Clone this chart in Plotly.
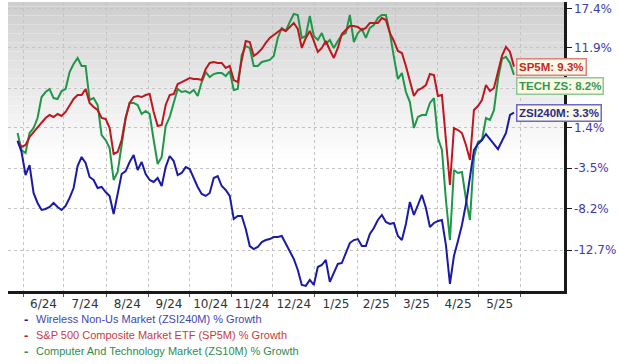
import plotly.graph_objects as go
import pandas as pd

# ---- data (percent growth) ----
start_date = "2024-05-28"
end_date = "2025-05-27"

zsi240m = [-0.2, -1.56, -4.30, -3.12, -6.38, -7.52, -8.31, -8.20, -7.97, -7.52,
           -7.97, -8.31, -7.86, -6.95, -5.81, -3.24, -2.16, -2.88, -4.53, -4.88,
           -5.81, -5.69, -6.27, -6.72, -8.76, -6.61, -4.18, -3.83, -2.76, -1.92,
           -3.71, -2.76, -4.18, -4.88, -5.11, -4.65, -5.58, -3.36, -2.04, -2.64,
           -4.30, -4.06, -3.36, -3.59, -4.65, -5.69, -6.50, -6.72, -6.38, -4.65,
           -4.42, -5.58, -6.04, -6.72, -9.32, -8.98, -8.98, -10.42, -12.28, -12.60,
           -12.38, -11.85, -11.63, -11.52, -11.30, -11.30, -11.19, -12.06, -12.81, -13.65,
           -14.81, -16.36, -16.46, -15.85, -16.36, -14.50, -14.29, -13.76, -16.05, -15.02,
           -14.18, -14.08, -13.02, -11.95, -11.63, -11.52, -12.28, -12.28, -10.97, -10.31,
           -9.43, -8.87, -9.65, -9.87, -9.76, -11.19, -11.63, -9.87, -7.41, -8.87,
           -7.75, -6.61, -8.09, -10.20, -9.76, -9.54, -9.43, -12.17, -16.26, -13.34,
           -11.74, -9.98, -7.64, -4.65, -1.32, -0.59, -0.10, 0.63, 0.02, -0.59,
           -1.20, -0.22, 0.76, 3.01, 3.30]

sp5m = [-0.2, -0.95, -0.71, 0.27, 0.88, 1.50, 2.13, 2.63, 3.01, 2.76,
        3.13, 2.88, 3.39, 4.28, 5.05, 5.56, 5.56, 6.34, 4.54, 4.03,
        3.64, 2.63, 2.51, 1.38, -1.80, -1.56, -0.10, 2.63, 4.54, 5.30,
        5.43, 5.30, 5.56, 5.69, 3.39, 1.63, 1.75, 4.28, 5.56, 5.69,
        6.99, 7.25, 7.52, 7.78, 7.65, 7.65, 7.52, 8.98, 9.79, 9.93,
        9.79, 9.79, 9.12, 9.39, 7.52, 7.25, 10.20, 12.79, 12.65, 10.74,
        11.14, 11.69, 12.52, 13.21, 13.62, 14.04, 14.46, 14.18, 14.74, 15.31,
        14.46, 11.83, 13.21, 14.18, 12.79, 11.28, 11.83, 12.79, 11.55, 10.47,
        11.83, 13.76, 14.32, 14.88, 14.88, 14.74, 14.32, 14.60, 15.31, 15.31,
        15.31, 16.01, 15.73, 13.90, 12.79, 11.42, 11.14, 9.39, 7.39, 5.43,
        6.21, 6.47, 6.86, 8.31, 8.18, 5.43, 5.56, -0.10, -5.46, 1.38,
        1.13, 0.76, -0.71, -2.52, 3.64, 4.15, 4.92, 6.86, 6.08, 6.47,
        8.71, 10.74, 11.97, 11.28, 9.30]

zs10m = [0.76, -1.32, -1.68, 0.76, 1.38, 2.63, 5.30, 5.95, 6.34, 5.17,
         5.05, 6.08, 6.34, 8.58, 9.66, 10.47, 9.39, 9.39, 4.92, 5.17,
         4.28, 0.51, -0.10, -1.08, -4.88, -3.95, -0.71, 2.63, 4.54, 4.54,
         4.28, 3.13, 3.51, 3.13, -0.10, -3.00, -2.16, 1.63, 2.76, 4.66,
         6.34, 5.95, 6.08, 5.82, 6.21, 5.43, 7.25, 8.58, 7.91, 8.31,
         8.45, 8.45, 8.05, 8.71, 6.21, 6.34, 10.87, 12.10, 11.83, 9.39,
         9.39, 9.93, 10.06, 10.20, 10.74, 13.21, 14.60, 14.18, 15.45, 16.58,
         16.44, 13.21, 13.48, 16.30, 13.48, 12.93, 13.90, 12.38, 12.93, 11.83,
         12.79, 13.62, 13.90, 16.44, 12.65, 13.90, 14.46, 13.21, 14.60, 15.02,
         16.01, 16.44, 16.44, 13.90, 10.61, 7.65, 8.45, 5.95, 4.66, 1.38,
         2.76, 3.01, 3.01, 4.54, 5.17, 0.14, -1.32, -7.18, -11.63, -3.71,
         -4.06, -3.95, -7.07, -9.43, -2.16, -0.34, -0.10, 2.63, 2.38, 3.64,
         7.65, 10.33, 10.61, 9.79, 8.20]

series_names = ["Wireless Non-Us Market (ZSI240M) % Growth",
                "S&P 500 Composite Market ETF (SP5M) % Growth",
                "Computer And Technology Market (ZS10M) % Growth"]
tag_labels = ["ZSI240M", "SP5M", "TECH ZS"]

y_tick_pct = [17.4, 11.9, 6.4, 1.4, -3.5, -8.2, -12.7]
y_tick_hidden = [6.4]          # label covered by the value tags in the reference
month_labels = ["6/24", "7/24", "8/24", "9/24", "10/24", "11/24", "12/24",
                "1/25", "2/25", "3/25", "4/25", "5/25"]

# ---- styling ----
line_colors = ["#1a1aa6", "#c0161e", "#1e9748"]
legend_colors = ["#4646aa", "#c83c3c", "#2e8c4e"]
tag_text_colors = ["#2a2a8c", "#c42a2a", "#2f9a52"]
tag_border_colors = ["#6a6ac8", "#dc8080", "#8cc89a"]
tag_y_px = [113, 67, 85.5]

dates = pd.date_range(start_date, end_date, periods=len(zsi240m))
values = [zsi240m, sp5m, zs10m]

W, H = 620, 364
ML, MR, MT, MB = 8, 56, 2, 73
PW, PH = W - ML - MR, H - MT - MB

fig = go.Figure()
for k in [2, 1, 0]:
    fig.add_trace(go.Scatter(
        x=dates, y=[1 + v / 100 for v in values[k]], mode="lines",
        line=dict(color=line_colors[k], width=2), name=series_names[k],
        showlegend=False, hoverinfo="skip"))

# gradient background (top of plot area)
n_bands = 36
for b in range(n_bands):
    y1 = 1 - b * 0.56 / n_bands
    y0 = 1 - (b + 1) * 0.56 / n_bands
    c = int(206 + 49 * (b / (n_bands - 1)) ** 0.9)
    fig.add_shape(type="rect", xref="paper", yref="paper", x0=0, x1=1,
                  y0=y0, y1=y1, fillcolor=f"rgb({c},{c},{c})",
                  line=dict(width=0), layer="below")

month_starts = pd.date_range("2024-06-01", "2025-06-01", freq="MS")
mid_months = [month_starts[i] + (month_starts[i + 1] - month_starts[i]) / 2
              for i in range(len(month_labels))]

fig.update_xaxes(
    type="date", range=["2024-05-21", "2025-07-02 16:00"],
    tickmode="array", tickvals=mid_months, ticktext=month_labels,
    showgrid=False, ticks="", showline=True, linecolor="#1a1a1a", linewidth=2.5,
    tickfont=dict(family="DejaVu Sans", size=12, color="#333333"),
    minor=dict(tickmode="array", tickvals=list(month_starts), showgrid=True,
               gridcolor="#c4c4c4", griddash="dot", gridwidth=1,
               ticks="outside", ticklen=3, tickcolor="#555555"),
    zeroline=False, fixedrange=True)

fig.update_yaxes(
    type="log", side="right", range=[-0.08081, 0.07302],
    tickmode="array", tickvals=[1 + t / 100 for t in y_tick_pct],
    ticktext=["" if t in y_tick_hidden else f"{t}%" for t in y_tick_pct],
    showgrid=True, gridcolor="#c4c4c4", griddash="dot", gridwidth=1,
    showline=True, linecolor="#1a1a1a", linewidth=2.5,
    ticks="outside", ticklen=5, tickcolor="#1a1a1a",
    tickfont=dict(family="DejaVu Sans", size=12, color="#3c3ca8"),
    zeroline=False, fixedrange=True)

# value tags on the right
for k in range(3):
    last = values[k][-1]
    fig.add_annotation(
        xref="paper", yref="paper", x=(516 - ML) / PW, y=(MT + PH - tag_y_px[k]) / PH,
        xanchor="left", yanchor="middle", showarrow=False,
        text=f"<b>{tag_labels[k]}: {last:.1f}%</b>",
        font=dict(family="Liberation Sans", size=11.5, color=tag_text_colors[k]),
        bgcolor="#fdf9e4", bordercolor=tag_border_colors[k], borderwidth=1.5,
        borderpad=1.5)

# legend rows below the chart
legend_rows_px = [319, 335, 351]
for k in range(3):
    yp = (MT + PH - legend_rows_px[k]) / PH
    fig.add_annotation(xref="paper", yref="paper", x=(22 - ML) / PW, y=yp,
                       xanchor="left", yanchor="middle", showarrow=False,
                       text="<b>-</b>",
                       font=dict(family="Liberation Sans", size=13, color=line_colors[k]))
    fig.add_annotation(xref="paper", yref="paper", x=(34 - ML) / PW, y=yp,
                       xanchor="left", yanchor="middle", showarrow=False,
                       text=series_names[k],
                       font=dict(family="Liberation Sans", size=11, color=legend_colors[k]))

fig.update_layout(
    width=W, height=H, margin=dict(l=ML, r=MR, t=MT, b=MB, pad=0),
    paper_bgcolor="white", plot_bgcolor="rgba(0,0,0,0)", showlegend=False)

fig.write_html("out.html",
               config={"displayModeBar": False, "staticPlot": True},
               post_script="document.body.style.margin='0px';"
                           "document.body.style.overflow='hidden';")
